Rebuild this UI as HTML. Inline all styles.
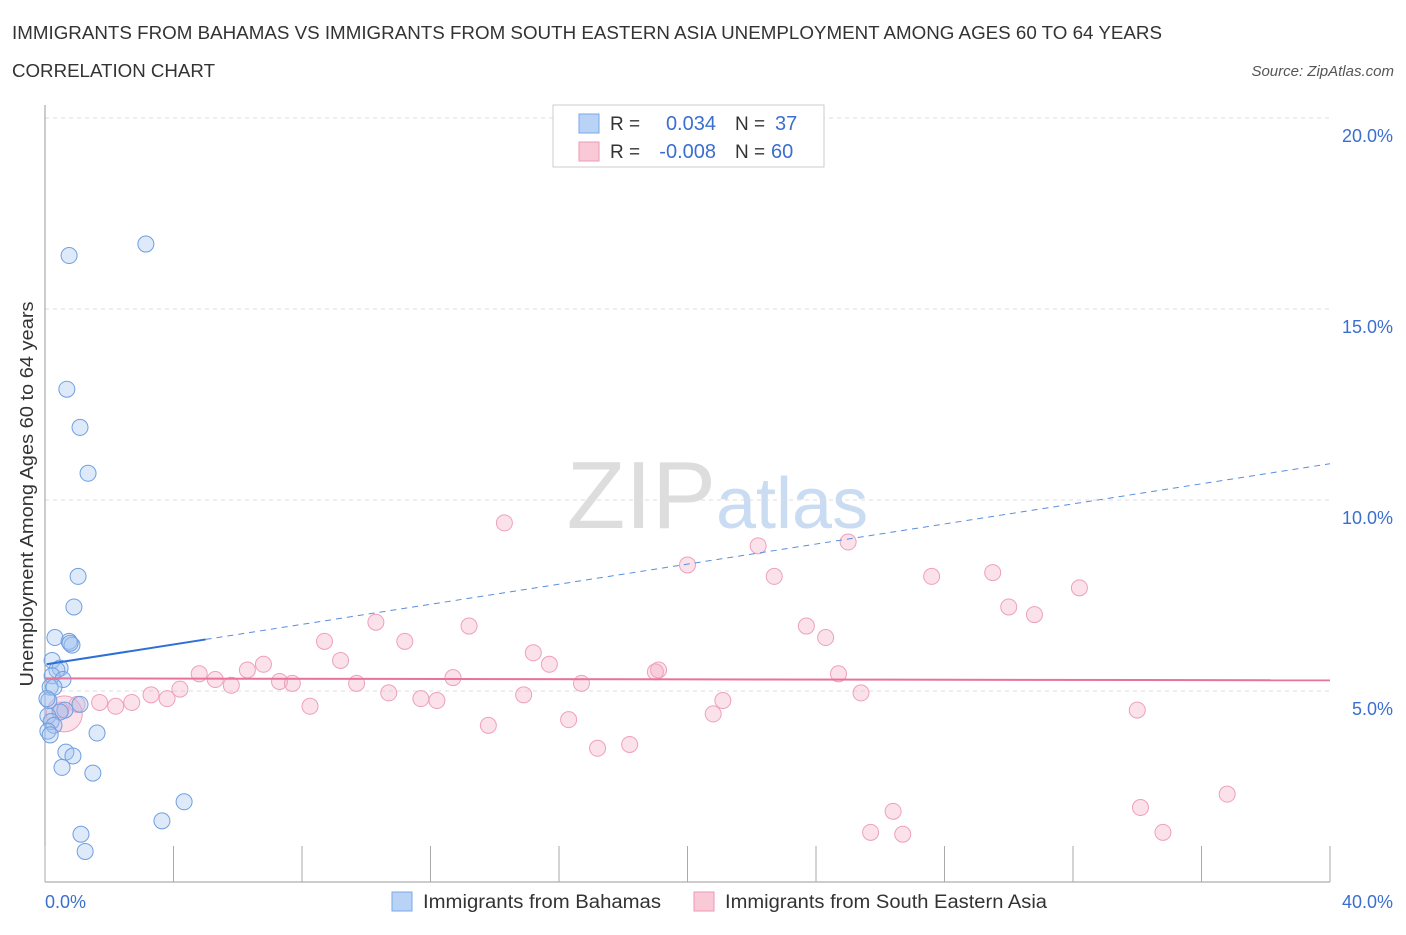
<!DOCTYPE html>
<html><head><meta charset="utf-8">
<style>
body{margin:0;background:#fff;font-family:"Liberation Sans",sans-serif;}
svg text{font-family:"Liberation Sans",sans-serif;}
</style></head>
<body>
<svg width="1406" height="930">
<text x="12" y="39" font-size="18" fill="#333" textLength="1150" lengthAdjust="spacingAndGlyphs">IMMIGRANTS FROM BAHAMAS VS IMMIGRANTS FROM SOUTH EASTERN ASIA UNEMPLOYMENT AMONG AGES 60 TO 64 YEARS</text>
<text x="12" y="77" font-size="18" fill="#333" textLength="203" lengthAdjust="spacingAndGlyphs">CORRELATION CHART</text>
<text x="1394" y="76" font-size="15" fill="#555" text-anchor="end" font-style="italic">Source: ZipAtlas.com</text>
<text x="716" y="528" font-size="96" fill="#ddd" text-anchor="end" font-family="Liberation Serif">ZIP</text>
<text x="716" y="528" font-size="72" fill="#c9dcf2">atlas</text>
<g id="grid"></g>
<g id="marks"></g>
<text transform="translate(33,494) rotate(-90)" font-size="18" fill="#333" text-anchor="middle" textLength="385" lengthAdjust="spacingAndGlyphs">Unemployment Among Ages 60 to 64 years</text>
<text x="45" y="908" font-size="18" fill="#3a6fd0">0.0%</text>
<text x="1393" y="908" font-size="18" fill="#3a6fd0" text-anchor="end">40.0%</text>
<g>
<rect x="553" y="105" width="271" height="62" fill="#fff" stroke="#ccc"/>
<rect x="579" y="114" width="20" height="19" fill="#b8d3f5" stroke="#7aa7e8"/>
<rect x="579" y="142" width="20" height="19" fill="#f9c9d8" stroke="#ee9ab6"/>
<text x="610" y="130" font-size="19" fill="#333">R = </text><text x="716" y="130" font-size="20" fill="#3a6fd0" text-anchor="end">0.034</text>
<text x="735" y="130" font-size="19" fill="#333">N = </text><text x="775" y="130" font-size="20" fill="#3a6fd0">37</text>
<text x="610" y="158" font-size="19" fill="#333">R = </text><text x="716" y="158" font-size="20" fill="#3a6fd0" text-anchor="end">-0.008</text>
<text x="735" y="158" font-size="19" fill="#333">N = </text><text x="771" y="158" font-size="20" fill="#3a6fd0">60</text>
</g>
<g>
<rect x="392" y="892" width="20" height="19" fill="#b8d3f5" stroke="#7aa7e8"/>
<text x="423" y="908" font-size="19" fill="#333" textLength="238" lengthAdjust="spacingAndGlyphs">Immigrants from Bahamas</text>
<rect x="694" y="892" width="20" height="19" fill="#f9c9d8" stroke="#ee9ab6"/>
<text x="725" y="908" font-size="19" fill="#333" textLength="322" lengthAdjust="spacingAndGlyphs">Immigrants from South Eastern Asia</text>
</g>
</svg>
<script>
const blueX=[0.75,3.14,0.68,1.09,1.34,1.03,0.90,0.31,0.75,0.84,0.78,0.22,0.47,0.37,0.22,0.56,0.16,0.28,0.12,1.09,0.62,0.47,0.09,0.19,0.28,0.09,0.16,1.62,0.65,0.87,0.53,1.49,4.33,3.64,1.12,1.25,0.06];
const blueY=[16.4,16.7,12.9,11.9,10.7,8.0,7.2,6.4,6.3,6.2,6.25,5.8,5.6,5.55,5.4,5.3,5.1,5.1,4.75,4.65,4.5,4.45,4.35,4.2,4.1,3.95,3.85,3.9,3.4,3.3,3.0,2.85,2.1,1.6,1.25,0.8,4.8];
const pinkX=[14.3,22.2,20.0,25.0,22.7,27.6,29.5,32.2,30.0,30.8,10.3,13.2,23.7,24.3,8.7,11.2,15.2,9.2,15.7,19.1,19.0,24.7,6.8,6.3,4.8,5.3,5.8,7.3,7.7,9.7,12.7,16.7,4.2,3.3,3.8,2.7,1.7,2.2,1.0,0.5,10.7,11.7,12.2,14.9,8.25,21.1,25.4,20.8,16.3,13.8,34.0,17.2,18.2,26.4,25.7,26.7,34.1,34.8,36.8,0.6];
const pinkY=[9.4,8.8,8.3,8.9,8.0,8.0,8.1,7.7,7.2,7.0,6.8,6.7,6.7,6.4,6.3,6.3,6.0,5.8,5.7,5.55,5.5,5.45,5.7,5.55,5.45,5.3,5.15,5.25,5.2,5.2,5.35,5.2,5.05,4.9,4.8,4.7,4.7,4.6,4.65,4.5,4.95,4.8,4.75,4.9,4.6,4.75,4.95,4.4,4.25,4.1,4.5,3.5,3.6,1.85,1.3,1.25,1.95,1.3,2.3,4.4];
const yTicks=[5,10,15,20];
const X=v=>45+v/40*1285, Y=v=>882-v/5*191;
const ns="http://www.w3.org/2000/svg";
const grid=document.getElementById('grid'), marks=document.getElementById('marks');
function mk(p,tag,a){const e=document.createElementNS(ns,tag);for(const k in a)e.setAttribute(k,a[k]);p.appendChild(e);return e;}
yTicks.forEach(t=>{
 const l=mk(grid,'line',{x1:45,x2:1330,y1:Y(t),y2:Y(t),stroke:'#ddd','stroke-dasharray':'4,4'});
 
 
 const tx=mk(grid,'text',{x:1393,y:Y(t)+24,'font-size':18,fill:'#3a6fd0','text-anchor':'end'});
 tx.textContent=t.toFixed(1)+'%';
 
 
});
const ax=mk(grid,'line',{x1:45,x2:45,y1:105,y2:882,stroke:'#999'});


const bx=mk(grid,'line',{x1:45,x2:1330,y1:882,y2:882,stroke:'#999'});


for(let i=0;i<=10;i++){const t=mk(grid,'line',{x1:X(i*4),x2:X(i*4),y1:846,y2:882,stroke:'#aaa'});
 
 }
pinkX.forEach((v,i)=>{const c=mk(marks,'circle',{cx:X(v),cy:Y(pinkY[i]),r:i==59?18:8,fill:'rgba(244,170,195,0.35)',stroke:'#eea0bb','stroke-width':1});
 
 });
blueX.forEach((v,i)=>{const c=mk(marks,'circle',{cx:X(v),cy:Y(blueY[i]),r:8,fill:'rgba(160,195,240,0.35)',stroke:'#6f9fe0','stroke-width':1});
 
 });
const pl=mk(marks,'line',{x1:X(0),y1:Y(5.33),x2:X(40),y2:Y(5.28),stroke:'#e8729a','stroke-width':2});


const b1=mk(marks,'line',{x1:X(0.05),y1:Y(5.7),x2:X(5.0),y2:Y(6.35),stroke:'#2e6fd6','stroke-width':2});


const b2=mk(marks,'line',{x1:X(5.0),y1:Y(6.35),x2:X(40),y2:Y(10.95),stroke:'#5a8de0','stroke-width':1,'stroke-dasharray':'6,5'});


</script>
</body></html>
